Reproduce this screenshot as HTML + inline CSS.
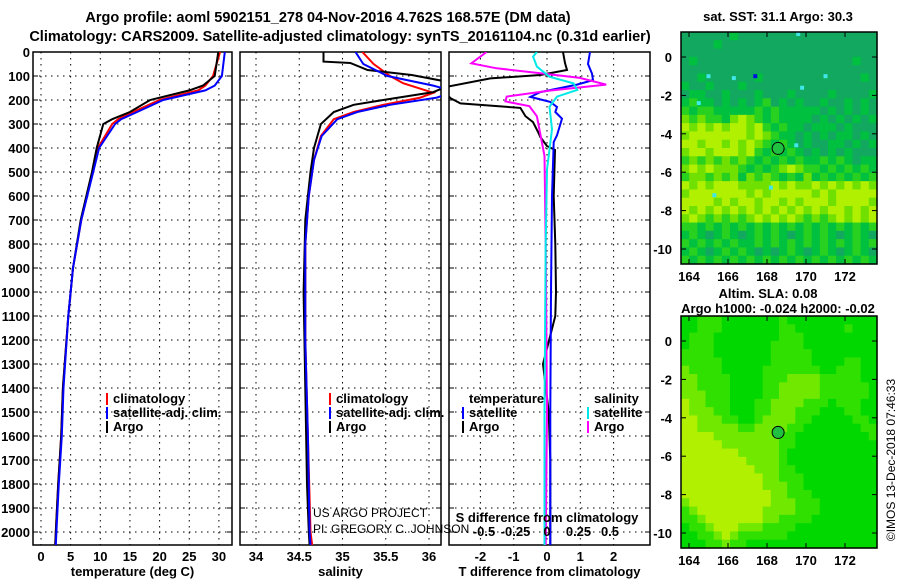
<!DOCTYPE html>
<html><head><meta charset="utf-8"><style>
html,body{margin:0;padding:0;background:#fff;}
svg{display:block;font-family:"Liberation Sans",sans-serif;}
.t{font-weight:bold;font-size:14.5px;}
.l{font-weight:bold;font-size:13px;}
</style></head><body>
<svg id="fig" width="900" height="580" viewBox="0 0 900 580" xmlns="http://www.w3.org/2000/svg">
<text class="t" x="328" y="22" text-anchor="middle">Argo profile: aoml 5902151_278 04-Nov-2016 4.762S 168.57E (DM data)</text>
<text class="t" x="340" y="41" text-anchor="middle">Climatology: CARS2009. Satellite-adjusted climatology: synTS_20161104.nc (0.31d earlier)</text>
<g id="g1"></g>
<g id="g2"></g>
<g id="g3"></g>
<g id="m1"></g>
<g id="m2"></g>
<text x="313" y="517" font-size="12">US ARGO PROJECT</text>
<text x="313" y="533" font-size="12">PI: GREGORY C. JOHNSON</text>
<text x="895" y="460" font-size="12" text-anchor="middle" transform="rotate(-90 895 460)">©IMOS 13-Dec-2018 07:46:33</text>
</svg>
<script>
// ---- profile data ----
const depthTicks=[0,100,200,300,400,500,600,700,800,900,1000,1100,1200,1300,1400,1500,1600,1700,1800,1900,2000];
const tempTicks=[0,5,10,15,20,25,30];
const salTicks=[34,34.5,35,35.5,36];
const tdiffTicks=[-2,-1,0,1,2];
const sdiffTicks=[-0.5,-0.25,0,0.25,0.5];
const sdiffTickLabels=["-0.5","-0.25","0","0.25","0.5"];

const tDepth=[0,100,140,160,200,250,280,300,400,500,700,900,1100,1400,1600,1800,2000,2056];
const tArgo=[29.9,29.3,27.3,25,18.4,15,12,10.5,9.4,8.6,6.7,5.4,4.6,3.7,3.4,2.9,2.5,2.4];
const tClim=[30.2,29,27.7,26.5,20,15.5,13,12,9.6,8.7,6.8,5.4,4.6,3.7,3.4,2.9,2.5,2.4];
const tSat=[31,30.5,29.3,27.7,20.6,16.2,13.5,12.5,9.8,8.8,6.8,5.4,4.6,3.8,3.5,3.0,2.6,2.5];

const sArgoDepth=[0,40,46,75,96,130,167,200,220,250,300,400,500,700,1000,1400,1800,2000,2056];
const sArgo=[34.78,34.78,35.09,35.29,35.8,36.3,36.05,35.47,35.13,34.9,34.75,34.67,34.63,34.57,34.55,34.57,34.59,34.61,34.62];
const sClimDepth=[0,50,100,130,170,190,220,250,280,350,450,600,800,1200,1600,2000,2056];
const sClim=[35.23,35.36,35.55,35.7,36.05,35.9,35.47,35.13,34.9,34.75,34.67,34.61,34.57,34.57,34.6,34.63,34.65];
const sSatDepth=[0,50,100,140,165,190,220,250,280,350,450,600,800,1200,1600,2000,2056];
const sSat=[35.15,35.24,35.52,36.05,36.3,36.09,35.55,35.17,34.94,34.76,34.67,34.61,34.57,34.57,34.6,34.62,34.63];

const dTArgoDepth=[0,46,75,96,110,150,192,214,233,267,292,333,354,392,408,600,800,1000,1100,1300,1500,1700,1900,2056];
const dTArgo=[0.48,0.54,0.6,-0.2,-1.7,-3.2,-2.9,-2.6,-0.8,-0.65,-0.42,-0.27,-0.2,0,0.24,0.2,0.25,0.27,0.25,-0.12,0.05,0.1,0.1,0.1];
const dTSatDepth=[0,50,90,117,136,167,187,208,229,250,278,347,375,600,1000,1500,2056];
const dTSat=[1.29,1.23,1.35,1.38,0.9,-0.2,-0.5,0.1,0.3,0.25,0.45,0.3,0.2,0.15,0.12,0.1,0.1];
const dSArgoDepth=[0,47,68,88,108,136,161,186,206,226,268,322,433,800,1500,2056];
const dSArgo=[-0.48,-0.6,-0.4,-0.06,0.26,0.47,0.02,-0.32,-0.33,-0.14,-0.08,-0.06,-0.02,-0.01,0,-0.01];
const dSSatDepth=[0,19,61,103,131,158,186,228,322,489,800,1500,2056];
const dSSat=[-0.08,-0.11,-0.08,0.02,0.21,0.24,0.08,0.02,0.04,0,-0.01,-0.02,-0.02];

// ---- map data ----
const lonTicks=[164,166,168,170,172];
const latTicks=[0,-2,-4,-6,-8,-10];
const sstColors=["#12a860","#00c040","#28d020","#70e000","#b0f000"];
const sstRows=["000000100000000000000000","000010000000000000000000","000000000000000000000000","010000000000000000000100","000000000000000000000000","001000000100000000000010","100100010000000000000000","011001000100010000100001","121101010120101001001010","212211111212111110101010","323221343212111101010101","434343443421211011101000","344444443432110101011010","443443434321210100110101","344344434212121010101000","232323232121212112121011","343433321212343221212121","233232313232121312121212","434344433334343343434343","344444443434444434344444","444434344344343444344443","434343434343434343443434","343232323434343232343434","221212121212121212121212","121012101212101212101210","212121211212121212121212","121012121010121012101210","212121212121212121212121"];
const sstSpecialLon=[167.4,169.6,165.0,171.0,166.3,164.5,169.8,165.3,168.2,169.5];
const sstSpecialLat=[-1.0,1.2,-1.0,-1.0,-1.1,-2.4,-1.6,-7.2,-6.8,-4.6];
const sstSpecialColor=["#0010e0","#40e8e8","#40e8e8","#40e8e8","#40e8e8","#40e8e8","#40e8e8","#40e8e8","#40e8e8","#40e8e8"];
const slaColors=["#00c800","#00d800","#30e000","#70e800","#b0f000"];
const slaRows=["112221111111211111111111","112221111111221111112111","122211111111222111111111","122211111112222111111111","222211111112222211111111","222221111112222211112211","322221111122222221122211","332222111122233332222211","332222111122333332222221","333222111122333332222221","433222111223333222122211","433322111223332221112211","443332211233332211111221","443333322333322111111122","444433333333221111111112","444443333333221111111111","444444433333211111111111","444444443333211111111111","444444444333221111111111","444444444433222111111111","444444444433322111111111","444444444443322211111111","344444444443332221111111","234444444433332221111111","223444444433222211111111","122344433322221111111111","112234322222211111111111","111223221111111111111111"];
const floatLon=168.57, floatLat=-4.762;

const NS="http://www.w3.org/2000/svg";
function mk(p,tag,a,txt){const e=document.createElementNS(NS,tag);for(const k in a)e.setAttribute(k,a[k]);if(txt!==undefined)e.textContent=txt;p.appendChild(e);return e;}
const Y0=52,YS=0.24,YB=545;
const yD=d=>Y0+d*YS;

function panel(g,x0,x1,xmap,xt,xtLabels,xtitle,name){
  const fr=mk(g,'rect',{x:x0,y:Y0,width:x1-x0,height:YB-Y0,fill:'#fff',stroke:'#000','stroke-width':1.5});
  
  
  depthTicks.forEach(d=>{const l=mk(g,'line',{x1:x0,x2:x1,y1:yD(d),y2:yD(d),stroke:'#000','stroke-dasharray':'1.5 4.5','stroke-width':1});
    
    
    mk(g,'line',{x1:x0,x2:x0+5,y1:yD(d),y2:yD(d),stroke:'#000'});mk(g,'line',{x1:x1-5,x2:x1,y1:yD(d),y2:yD(d),stroke:'#000'});});
  xt.forEach((v,i)=>{const x=xmap(v);const l=mk(g,'line',{x1:x,x2:x,y1:Y0,y2:YB,stroke:'#000','stroke-dasharray':'1.5 4.5'});
    
    
    if(xtLabels){const t=mk(g,'text',{x:x,y:561,'text-anchor':'middle',class:'l'},xtLabels[i]);
    
    }});
  const tt=mk(g,'text',{x:(x0+x1)/2,y:576,'text-anchor':'middle',class:'l'},xtitle);
  
  
}
function line(g,xs,ds,xmap,color,name){
  const pts=xs.map((v,i)=>xmap(v).toFixed(1)+','+yD(ds[i]).toFixed(1)).join(' ');
  const p=mk(g,'polyline',{points:pts,fill:'none',stroke:color,'stroke-width':2});
  
  
}
function clip(g,id,x0,x1){const d=mk(g,'clipPath',{id:id});mk(d,'rect',{x:x0,y:Y0,width:x1-x0,height:YB-Y0});const c=mk(g,'g',{'clip-path':'url(#'+id+')'});return c;}
function legend(g,x,y,color,label,name){
  mk(g,'rect',{x:x,y:y-10,width:2,height:12,fill:color});
  const t=mk(g,'text',{x:x+7,y:y,class:'l'},label);
  
  
}

const g1=document.getElementById('g1');
depthTicks.forEach(d=>{const t=mk(g1,'text',{x:30,y:yD(d)+5,'text-anchor':'end',class:'l'},String(d));
  
  });

const xT=v=>41+v*5.93;
panel(g1,33,232,xT,tempTicks,tempTicks.map(String),'temperature (deg C)','temperature');
{const c=clip(g1,'c1',33,232);
line(c,tClim,tDepth,xT,'#ff0000','temp-climatology-line');
line(c,tArgo,tDepth,xT,'#000000','temp-argo-line');
line(c,tSat,tDepth,xT,'#0000ff','temp-satellite-line');}
legend(g1,106,403,'#ff0000','climatology','legend-climatology');
legend(g1,106,417,'#0000ff','satellite-adj. clim.','legend-satellite');
legend(g1,106,431,'#000000','Argo','legend-argo');

const g2=document.getElementById('g2');
const xS=v=>256+(v-34)*86.5;
panel(g2,240,441,xS,salTicks,salTicks.map(String),'salinity','salinity');
{const c=clip(g2,'c2',240,441);
line(c,sClim,sClimDepth,xS,'#ff0000','sal-climatology-line');
line(c,sArgo,sArgoDepth,xS,'#000000','sal-argo-line');
line(c,sSat,sSatDepth,xS,'#0000ff','sal-satellite-line');}
legend(g2,329,403,'#ff0000','climatology','legend-sal-climatology');
legend(g2,329,417,'#0000ff','satellite-adj. clim.','legend-sal-satellite');
legend(g2,329,431,'#000000','Argo','legend-sal-argo');

const g3=document.getElementById('g3');
const xdT=v=>547+v*33.3;
const xdS=v=>547+v*126;
panel(g3,449,650,xdT,tdiffTicks,tdiffTicks.map(String),'T difference from climatology','tdiff');
{const c=clip(g3,'c3',449,650);
line(c,dTArgo,dTArgoDepth,xdT,'#000000','tdiff-argo-line');
line(c,dTSat,dTSatDepth,xdT,'#0000ff','tdiff-satellite-line');
line(c,dSArgo,dSArgoDepth,xdS,'#ff00ff','sdiff-argo-line');
line(c,dSSat,dSSatDepth,xdS,'#00e8e8','sdiff-satellite-line');}
sdiffTicks.forEach((v,i)=>{const t=mk(g3,'text',{x:xdS(v),y:536,'text-anchor':'middle',class:'l'},sdiffTickLabels[i]);
  
  });
mk(g3,'text',{x:547,y:522,'text-anchor':'middle',class:'l'},'S difference from climatology');
mk(g3,'text',{x:469,y:403,class:'l'},'temperature');
legend(g3,462,417,'#0000ff','satellite','legend-tdiff-satellite');
legend(g3,462,431,'#000000','Argo','legend-tdiff-argo');
mk(g3,'text',{x:594,y:403,class:'l'},'salinity');
legend(g3,587,417,'#00e8e8','satellite','legend-sdiff-satellite');
legend(g3,587,431,'#ff00ff','Argo','legend-sdiff-argo');

function map(g,top,rows,colors,title1,title2,special){
  const L=681,R=877,B=top+232;
  const lat0=top+25;
  const xl=lon=>689+(lon-164)*19.5;
  const yl=lat=>lat0-lat*19.2;
  const nr=rows.length,nc=rows[0].length,cw=(R-L)/nc,ch=(B-top)/nr;
  rows.forEach((row,r)=>{for(let c=0;c<nc;c++){const e=mk(g,'rect',{x:(L+c*cw).toFixed(2),y:(top+r*ch).toFixed(2),width:(cw+0.6).toFixed(2),height:(ch+0.6).toFixed(2),fill:colors[+row[c]]});
    
    }});
  if(special){special[0].forEach((lon,i)=>{const e=mk(g,'rect',{x:xl(lon)-2,y:yl(special[1][i])-2,width:4,height:4,fill:special[2][i]});
    
    });}
  mk(g,'rect',{x:L,y:top,width:R-L,height:B-top,fill:'none',stroke:'#000','stroke-width':1.5});
  latTicks.forEach(v=>{const y=yl(v);mk(g,'line',{x1:L,x2:L+5,y1:y,y2:y,stroke:'#000'});mk(g,'line',{x1:R-5,x2:R,y1:y,y2:y,stroke:'#000'});
    const t=mk(g,'text',{x:672,y:y+5,'text-anchor':'end',class:'l'},String(v));
    
    });
  lonTicks.forEach(v=>{const x=xl(v);mk(g,'line',{x1:x,x2:x,y1:B-5,y2:B,stroke:'#000'});mk(g,'line',{x1:x,x2:x,y1:top,y2:top+5,stroke:'#000'});
    const t=mk(g,'text',{x:x,y:B+17,'text-anchor':'middle',class:'l'},String(v));
    
    });
  const fc=mk(g,'circle',{cx:xl(floatLon),cy:yl(floatLat),r:6,fill:'#20c040',stroke:'#000','stroke-width':1});
  
  
  const t1=mk(g,'text',{x:title2?768:778,y:title2?top-18:top-11,'text-anchor':'middle',class:'l'},title1);
  
  
  if(title2){const t2=mk(g,'text',{x:778,y:top-3,'text-anchor':'middle',class:'l'},title2);
    
    }
}
map(document.getElementById('m1'),32,sstRows,sstColors,'sat. SST: 31.1 Argo: 30.3',null,[sstSpecialLon,sstSpecialLat,sstSpecialColor]);
map(document.getElementById('m2'),316,slaRows,slaColors,'Altim. SLA: 0.08','Argo h1000: -0.024 h2000: -0.02',null);
</script>
</body></html>
